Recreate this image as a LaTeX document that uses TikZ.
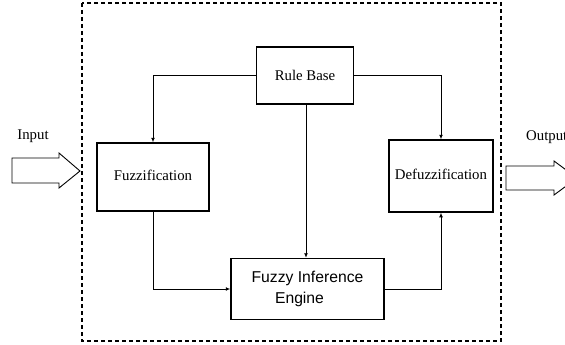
\documentclass[tikz,border=0pt]{standalone}
\usepackage{fontspec}
\setmainfont{Liberation Serif}
\newfontfamily\labelsans{Liberation Sans}
\usetikzlibrary{arrows.meta}
\begin{document}
\begin{tikzpicture}[x=1pt,y=-1pt,
  blockbox/.style={draw, line width=1.5pt, rectangle, inner sep=0pt, align=center,
    font=\fontsize{14.8}{18}\selectfont},
  link/.style={line width=0.9pt, -{Latex[length=4.5pt,width=4pt]}},
  boundary/.style={line width=1.2pt, dash pattern=on 4pt off 3pt},
  hollowarrow/.style={draw, line width=0.9pt, fill=white},
  sidelabel/.style={inner sep=0pt, font=\fontsize{14.8}{18}\selectfont}]

  \useasboundingbox (0,0) rectangle (565,345);
  \clip (0,0) rectangle (565,345);

  % system boundary
  \draw[boundary] (82,3) rectangle (501,341);

  % blocks
  \node[blockbox, minimum width=97pt, minimum height=57pt] (rb) at (305,75.5) {Rule Base};
  \node[blockbox, minimum width=112pt, minimum height=68pt] (fz) at (153,177) {\raisebox{4pt}{Fuzzification}};
  \node[blockbox, minimum width=104pt, minimum height=72pt] (df) at (441,176) {\raisebox{3pt}{Defuzzification}};
  \node[blockbox, minimum width=153pt, minimum height=61pt,
        font=\labelsans\fontsize{15.7}{21}\selectfont] (fie) at (307.5,289)
        {Fuzzy Inference\\Engine\hspace*{16pt}};

  % signal flow
  \draw[link] (rb.west) -| (fz.north);
  \draw[link] (rb.east) -| (df.north);
  \draw[link] (rb.south -| 306,0) -- (fie.north -| 306,0);
  \draw[link] (fz.south) |- (fie.west);
  \draw[link] (fie.east) -| (df.south);

  % input and output
  \node[sidelabel] (inlbl) at (33,136) {Input};
  \node[sidelabel, anchor=west] (outlbl) at (526,137) {Output};
  \draw[hollowarrow] (12,158) -- (59,158) -- (59,153) -- (80,171) -- (59,188)
    -- (59,183) -- (12,183) -- cycle;
  \draw[hollowarrow] (506,166) -- (554,166) -- (554,161) -- (577,178) -- (554,195)
    -- (554,190) -- (506,190) -- cycle;
\end{tikzpicture}
\end{document}
